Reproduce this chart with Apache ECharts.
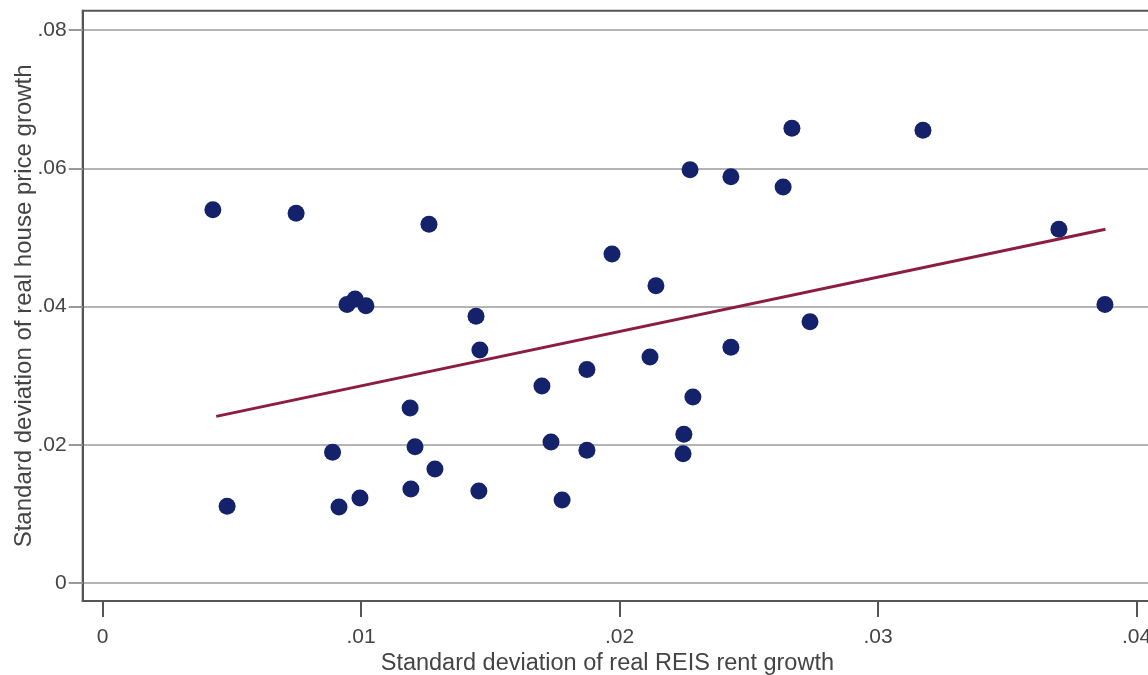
<!DOCTYPE html>
<html>
<head>
<meta charset="utf-8">
<script src="https://cdn.jsdelivr.net/npm/echarts@6/dist/echarts.min.js"></script>
<style>
html,body{margin:0;padding:0;background:#fff;}
#chart{width:1148px;height:675px;}
</style>
</head>
<body>
<div id="chart"></div>
<script>
// Data
const rentSD = [0.00427,0.00482,0.00749,0.00890,0.00915,0.00946,0.00977,0.01019,0.00996,0.01190,
  0.01209,0.01193,0.01263,0.01286,0.01445,0.01460,0.01456,0.01700,0.01735,0.01778,
  0.01874,0.01874,0.01971,0.02118,0.02141,0.02249,0.02246,0.02273,0.02284,0.02431,
  0.02431,0.02633,0.02667,0.02737,0.03174,0.03700,0.03878];
const priceSD = [0.0540,0.0111,0.0535,0.0189,0.0110,0.0403,0.0411,0.0401,0.0123,0.0253,
  0.0197,0.0136,0.0519,0.0165,0.0386,0.0337,0.0133,0.0285,0.0204,0.0120,
  0.0309,0.0192,0.0476,0.0327,0.0430,0.0215,0.0187,0.0598,0.0269,0.0341,
  0.0588,0.0573,0.0658,0.0378,0.0655,0.0512,0.0403];
const fitX = [0.0044, 0.0388];
const fitY = [0.0241, 0.0512];
const xTicks = [0, 0.01, 0.02, 0.03, 0.04];
const xTickLabels = ['0', '.01', '.02', '.03', '.04'];
const yTicks = [0, 0.02, 0.04, 0.06, 0.08];
const yTickLabels = ['0', '.02', '.04', '.06', '.08'];
const xTitle = 'Standard deviation of real REIS rent growth';
const yTitle = 'Standard deviation of real house price growth';

const FONT = "'Liberation Sans', Arial, Helvetica, sans-serif";
const TXT = '#444';
function lab(ticks, labels) {
  return function (v) {
    const i = ticks.findIndex(t => Math.abs(t - v) < 1e-9);
    return i >= 0 ? labels[i] : '';
  };
}
const scatterData = rentSD.map((x, i) => [x, priceSD[i]]);
const fitData = fitX.map((x, i) => [x, fitY[i]]);

const chart = echarts.init(document.getElementById('chart'), null, {renderer: 'canvas'});
chart.setOption({
  animation: false,
  backgroundColor: '#fff',
  grid: {
    left: 82.7, top: 10.7, bottom: 74, right: -12,
    show: true, borderColor: '#555', borderWidth: 2, backgroundColor: 'transparent',
    containLabel: false, outerBoundsMode: 'none'
  },
  xAxis: {
    type: 'value', min: -0.000766, max: 0.04091,
    axisLine: {show: true, onZero: false, lineStyle: {color: '#555', width: 2}},
    axisTick: {show: true, length: 16, customValues: xTicks, lineStyle: {color: '#555', width: 2}},
    axisLabel: {customValues: xTicks, formatter: lab(xTicks, xTickLabels), margin: 26,
      color: TXT, fontSize: 21, fontFamily: FONT},
    splitLine: {show: false},
    name: xTitle, nameLocation: 'middle', nameGap: 51, nameMoveOverlap: false,
    nameTextStyle: {color: TXT, fontSize: 23.5, fontFamily: FONT, padding: [0, 28, 0, 0]}
  },
  yAxis: {
    type: 'value', min: -0.00262, max: 0.08282,
    axisLine: {show: true, onZero: false, lineStyle: {color: '#555', width: 2}},
    axisTick: {show: true, length: 14, customValues: yTicks, lineStyle: {color: '#999', width: 2}},
    axisLabel: {customValues: yTicks, formatter: lab(yTicks, yTickLabels), margin: 16,
      color: TXT, fontSize: 21, fontFamily: FONT},
    splitLine: {show: true, lineStyle: {color: '#b4b4b4', width: 2}},
    name: yTitle, nameLocation: 'middle', nameGap: 46, nameRotate: 90, nameMoveOverlap: false,
    nameTextStyle: {color: TXT, fontSize: 24, fontFamily: FONT}
  },
  series: [
    {
      type: 'scatter', data: scatterData, symbol: 'circle', symbolSize: 17,
      itemStyle: {color: '#13226b', opacity: 1}, z: 2
    },
    {
      type: 'line', data: fitData, showSymbol: false, symbol: 'none',
      lineStyle: {color: '#8c1d40', width: 3}, z: 3
    }
  ]
});
</script>
</body>
</html>
